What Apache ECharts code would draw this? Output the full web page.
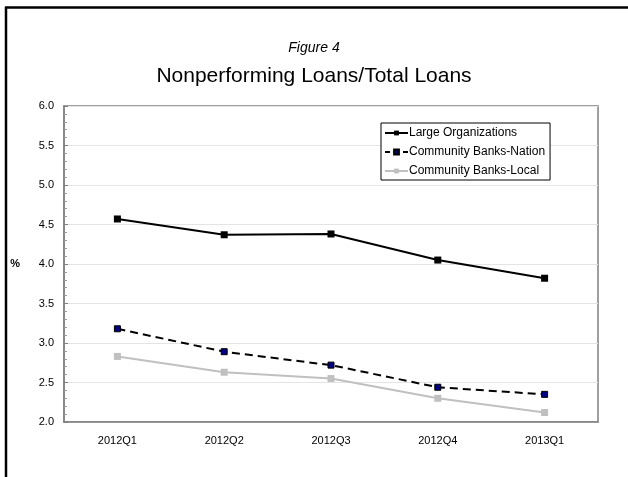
<!DOCTYPE html>
<html>
<head>
<meta charset="utf-8">
<script src="https://cdn.jsdelivr.net/npm/echarts@6/dist/echarts.min.js"></script>
<style>
  html, body { margin: 0; padding: 0; background: #fff; }
  #chart { width: 628px; height: 477px; }
</style>
</head>
<body>
<div id="chart"></div>
<script>
// Quarterly nonperforming loans as a share of total loans (%)
const quarters = ['2012Q1', '2012Q2', '2012Q3', '2012Q4', '2013Q1'];
const largeOrganizations = [4.57, 4.37, 4.38, 4.05, 3.82];
const communityBanksNation = [3.18, 2.89, 2.72, 2.44, 2.35];
const communityBanksLocal = [2.83, 2.63, 2.55, 2.30, 2.12];

const FONT = 'Liberation Sans, Arial, sans-serif';

const chart = echarts.init(document.getElementById('chart'), null, { renderer: 'canvas' });

chart.setOption({
  animation: false,
  backgroundColor: '#ffffff',
  textStyle: { fontFamily: FONT },
  title: [
    {
      text: 'Figure 4',
      left: 'center',
      top: 36,
      textStyle: { fontFamily: FONT, fontSize: 14, fontStyle: 'italic', fontWeight: 'normal', color: '#000' }
    },
    {
      text: 'Nonperforming Loans/Total Loans',
      left: 'center',
      top: 61,
      textStyle: { fontFamily: FONT, fontSize: 21, fontWeight: 'normal', color: '#000' }
    }
  ],
  graphic: [
    { type: 'line', shape: { x1: 6, y1: 7, x2: 6, y2: 477 }, style: { stroke: '#000', lineWidth: 2.5 } },
    { type: 'line', shape: { x1: 5, y1: 7.5, x2: 628, y2: 7.5 }, style: { stroke: '#000', lineWidth: 2.5 } }
  ],
  grid: {
    left: 64, right: 30, top: 106, bottom: 55,
    show: true,
    borderColor: '#808080',
    borderWidth: 1.5,
    backgroundColor: 'transparent'
  },
  legend: {
    orient: 'vertical',
    left: 381,
    top: 123,
    padding: [4, 5, 3, 3],
    backgroundColor: '#fff',
    borderColor: '#000',
    borderWidth: 1,
    itemGap: 7,
    itemWidth: 23,
    itemHeight: 6,
    textStyle: { fontFamily: FONT, fontSize: 12, color: '#000', padding: [0, 0, 0, -4] },
    data: [
      { name: 'Large Organizations' },
      { name: 'Community Banks-Nation', lineStyle: { type: [5, 4] } },
      { name: 'Community Banks-Local' }
    ]
  },
  xAxis: {
    type: 'category',
    data: quarters,
    boundaryGap: true,
    axisLine: { lineStyle: { color: '#808080', width: 1.5 } },
    axisTick: { show: false },
    axisLabel: { fontFamily: FONT, fontSize: 11, color: '#000', margin: 13 },
    splitLine: { show: false }
  },
  yAxis: {
    type: 'value',
    min: 2,
    max: 6,
    interval: 0.5,
    name: '%',
    nameLocation: 'middle',
    nameRotate: 0,
    nameGap: 44,
    nameTextStyle: { fontFamily: FONT, fontSize: 11, fontWeight: 'bold', color: '#000' },
    axisLine: { show: true, lineStyle: { color: '#808080', width: 1.5 } },
    axisTick: { show: true, inside: true, length: 4, lineStyle: { color: '#808080' } },
    minorTick: { show: true, splitNumber: 5, length: 3, lineStyle: { color: '#999' } },
    axisLabel: {
      fontFamily: FONT, fontSize: 11, color: '#000', margin: 10,
      formatter: v => v.toFixed(1)
    },
    splitLine: { show: true, lineStyle: { color: '#e4e4e4', width: 1 } }
  },
  series: [
    {
      name: 'Large Organizations',
      type: 'line',
      data: largeOrganizations,
      symbol: 'rect',
      symbolSize: 7,
      itemStyle: { color: '#000' },
      lineStyle: { color: '#000', width: 2 },
      z: 4
    },
    {
      name: 'Community Banks-Nation',
      type: 'line',
      data: communityBanksNation,
      symbol: 'rect',
      symbolSize: 6,
      itemStyle: { color: '#000080', borderColor: '#000', borderWidth: 1 },
      lineStyle: { color: '#000', width: 2, type: [8, 5] },
      z: 3
    },
    {
      name: 'Community Banks-Local',
      type: 'line',
      data: communityBanksLocal,
      symbol: 'rect',
      symbolSize: 7,
      itemStyle: { color: '#c0c0c0' },
      lineStyle: { color: '#c0c0c0', width: 2 },
      z: 2
    }
  ]
});
</script>
</body>
</html>
